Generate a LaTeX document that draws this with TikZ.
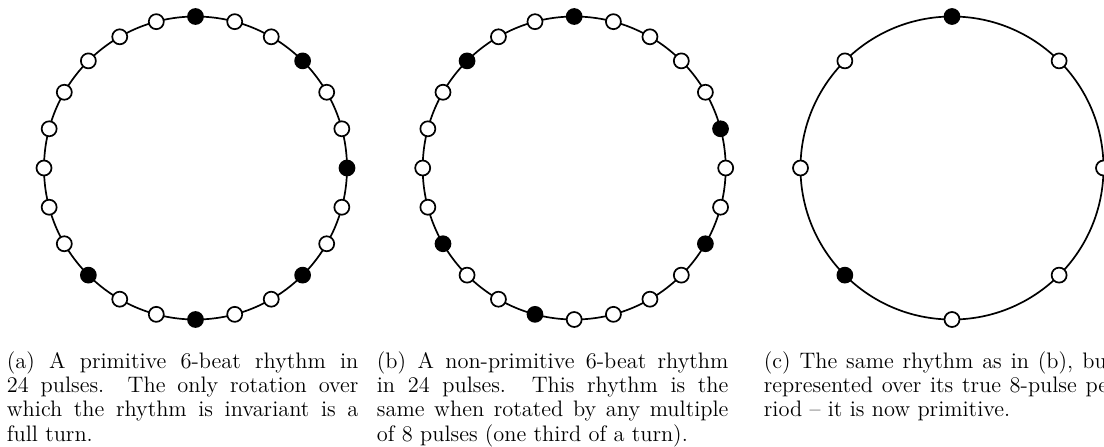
\documentclass[tikz,border=0pt]{standalone}
\usetikzlibrary{calc}
\tikzset{
  ring/.style={line width=0.85pt},
  pulse/.style={circle, draw, line width=0.85pt, fill=white, minimum size=7.5pt, inner sep=0pt},
  beat/.style={pulse, fill=black},
  capt/.style={anchor=base west, inner sep=0pt, font=\fontsize{11.2}{12.1}\selectfont}
}
\newcommand{\capline}[1]{\makebox[175.75pt][s]{#1}}
\begin{document}
\begin{tikzpicture}[x=0.5pt,y=-0.5pt]
\useasboundingbox (0,0) rectangle (1104,446);
\clip (0,0) rectangle (1104,446);
% centres
\coordinate (ca) at (195.5,168);
\coordinate (cb) at (574.2,168);
\coordinate (cc) at (952,168);
% rings
\draw[ring] (ca) circle[radius=75.75pt];
\draw[ring] (cb) circle[radius=75.75pt];
\draw[ring] (cc) circle[radius=75.75pt];
% (a) primitive 6-beat rhythm in 24 pulses
\foreach \k in {1,2,4,5,7,8,10,11,13,14,16,17,18,19,20,21,22,23}
  \node[pulse] (a\k) at ($(ca)+(90-15*\k:75.75pt)$) {};
\foreach \k in {0,3,6,9,12,15}
  \node[beat] (a\k) at ($(ca)+(90-15*\k:75.75pt)$) {};
% (b) non-primitive 6-beat rhythm in 24 pulses
\foreach \k in {1,2,3,4,6,7,9,10,11,12,14,15,17,18,19,20,22,23}
  \node[pulse] (b\k) at ($(cb)+(90-15*\k:75.75pt)$) {};
\foreach \k in {0,5,8,13,16,21}
  \node[beat] (b\k) at ($(cb)+(90-15*\k:75.75pt)$) {};
% (c) same rhythm over 8 pulses
\foreach \k in {1,2,3,4,6,7}
  \node[pulse] (c\k) at ($(cc)+(90-45*\k:75.75pt)$) {};
\foreach \k in {0,5}
  \node[beat] (c\k) at ($(cc)+(90-45*\k:75.75pt)$) {};
% captions
\node[capt] (capa) at (6.5,368.5) {\parbox[t]{175.75pt}{%
\capline{(a) A primitive 6-beat rhythm in}\\
\capline{24 pulses.  The only rotation over}\\
\capline{which the rhythm is invariant is a}\\
full turn.}};
\node[capt] (capb) at (376.5,368.5) {\parbox[t]{175.75pt}{%
\capline{(b) A non-primitive 6-beat rhythm}\\
\capline{in 24 pulses.  This rhythm is the}\\
\capline{same when rotated by any multiple}\\
of 8 pulses (one third of a turn).}};
\node[capt] (capc) at (763.5,368.5) {\parbox[t]{175.75pt}{%
\capline{(c) The same rhythm as in (b), but}\\
\capline{represented over its true 8-pulse pe-}\\
riod \textendash{} it is now primitive.}};
\end{tikzpicture}
\end{document}
